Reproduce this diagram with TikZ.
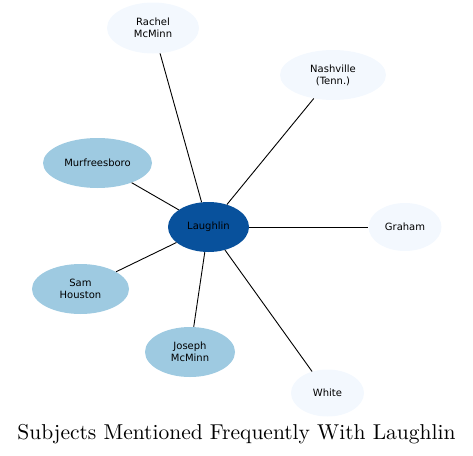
\documentclass[tikz,border=0pt]{standalone}
\usepackage{fontspec}
\newfontfamily\nodefont{DejaVu Sans}
\newfontfamily\titlefont{lmroman10-regular.otf}
\usetikzlibrary{shapes.geometric}
\definecolor{cdark}{HTML}{08519C}
\definecolor{cmid}{HTML}{9ECAE1}
\definecolor{clight}{HTML}{F3F8FE}
\tikzset{
  ent/.style={ellipse, inner sep=0pt, draw=none, align=center,
    font=\nodefont\fontsize{10}{12}\selectfont, text=black},
  edge/.style={draw=black, line width=0.9pt},
}
\begin{document}
\begin{tikzpicture}[x=1pt,y=-1pt]
\useasboundingbox (0,0) rectangle (473,455);
\node[ent, fill=clight, minimum width=92pt, minimum height=51pt] (rachel) at (153,28) {Rachel\\McMinn};
\node[ent, fill=clight, minimum width=106pt, minimum height=50pt] (nash) at (333,75) {Nashville\\(Tenn.)};
\node[ent, fill=cmid, minimum width=109pt, minimum height=50pt] (murf) at (97.5,163) {Murfreesboro};
\node[ent, fill=cmid, minimum width=97pt, minimum height=50pt] (sam) at (80.5,289) {Sam\\Houston};
\node[ent, fill=clight, minimum width=73pt, minimum height=48pt] (graham) at (405,227) {Graham};
\node[ent, fill=clight, minimum width=73pt, minimum height=47pt] (white) at (327.5,393) {White};
\node[ent, fill=cmid, minimum width=90pt, minimum height=50pt] (joseph) at (190,352) {Joseph\\McMinn};
\node[ent, fill=cdark, minimum width=81pt, minimum height=50pt] (laugh) at (208.5,227) {Laughlin};
\draw[edge] (laugh) -- (rachel);
\draw[edge] (laugh) -- (nash);
\draw[edge] (laugh) -- (murf);
\draw[edge] (laugh) -- (sam);
\draw[edge] (laugh) -- (graham);
\draw[edge] (laugh) -- (white);
\draw[edge] (laugh) -- (joseph);
\node[font=\titlefont\fontsize{21.5}{24}\selectfont, anchor=base, inner sep=0pt] (title) at (236.5,439) {Subjects Mentioned Frequently With Laughlin};
\end{tikzpicture}
\end{document}
